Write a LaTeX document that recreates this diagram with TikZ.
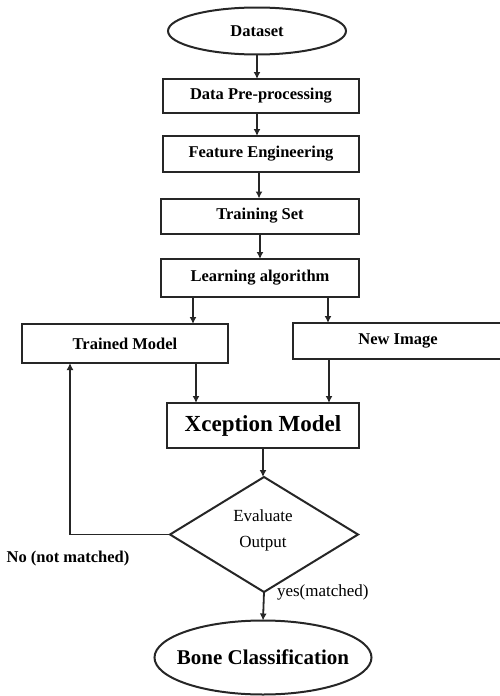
\documentclass[tikz,border=0pt]{standalone}
\usepackage{fontspec}
\setmainfont{Liberation Serif}
\usetikzlibrary{shapes.geometric,arrows.meta}
\begin{document}
\begin{tikzpicture}[x=1pt,y=-1pt,
  every node/.style={inner sep=0pt, outer sep=0pt},
  box/.style={draw=black!85, line width=2pt, rectangle, font=\fontsize{16.5}{18}\selectfont\bfseries},
  oval/.style={draw=black!85, line width=2pt, ellipse},
  arr/.style={draw=black!85, line width=1.8pt, -{Latex[length=7pt,width=7pt]}},
  ln/.style={draw=black!85, line width=1.8pt}]
\useasboundingbox (0,0) rectangle (500,696);
\node[oval, minimum width=178, minimum height=47, font=\fontsize{16.5}{18}\selectfont\bfseries] (ds) at (257,31) {Dataset};
\node[box, minimum width=196, minimum height=34] (pre) at (261,96) {Data Pre-processing};
\node[box, minimum width=196, minimum height=36] (feat) at (261,154) {Feature Engineering};
\node[box, minimum width=198, minimum height=35] (train) at (260,216) {Training Set};
\node[box, minimum width=198, minimum height=38] (learn) at (260,278) {Learning algorithm};
\node[box, minimum width=206, minimum height=39] (tm) at (125,343.5) {Trained Model};
\node[box, minimum width=210, minimum height=36] (ni) at (398,341) {New Image};
\node[box, minimum width=192, minimum height=45, font=\fontsize{23}{26}\selectfont\bfseries] (xc) at (263,425.5) {Xception Model};
\node[draw=black!85, line width=2pt, diamond, minimum width=188, minimum height=115] (ev) at (264,534.5) {};
\node[font=\fontsize{17}{19}\selectfont] (evt) at (263,531) {\begin{tabular}{c}Evaluate\\[7pt]Output\end{tabular}};
\node[oval, minimum width=217, minimum height=74] (bone) at (263,657.5) {};
\node[font=\fontsize{21}{23}\selectfont\bfseries] (bonet) at (263,657) {Bone Classification};
\coordinate (lp) at (70,534.5);
\node[font=\fontsize{16.5}{18}\selectfont\bfseries] (no) at (68,559) {No (not matched)};
\node[font=\fontsize{17}{19}\selectfont, anchor=west] (yes) at (277,592) {yes(matched)};
\draw[arr] (ds.south) -- (ds.south |- pre.north);
\draw[arr] (ds.south |- pre.south) -- (ds.south |- feat.north);
\draw[arr] ([xshift=-2pt]feat.south) -- ([xshift=-2pt]feat.south |- train.north);
\draw[arr] (train.south) -- (train.south |- learn.north);
\draw[arr] ([xshift=-67pt]learn.south) -- ([xshift=-67pt]learn.south |- tm.north);
\draw[arr] ([xshift=68pt]learn.south) -- ([xshift=68pt]learn.south |- ni.north);
\draw[arr] ([xshift=71pt]tm.south) -- ([xshift=71pt]tm.south |- xc.north);
\draw[arr] (329,359) -- (329,403);
\draw[arr] (xc.south) -- (xc.south |- ev.north);
\draw[ln] (ev.west) -- (lp);
\draw[arr] (lp) -- (lp |- tm.south);
\draw[arr] (ev.south) -- (bone.north);
\end{tikzpicture}
\end{document}
